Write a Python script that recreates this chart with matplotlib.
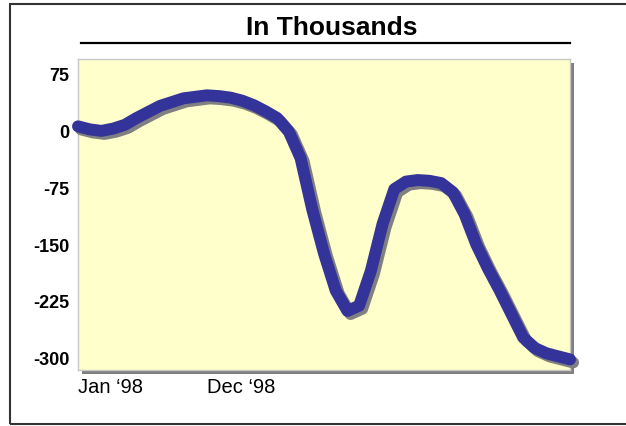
import numpy as np
import matplotlib
matplotlib.use('Agg')
import matplotlib.pyplot as plt
import matplotlib.patheffects as pe
from matplotlib import font_manager
from matplotlib.patches import Rectangle
from matplotlib.lines import Line2D

# monthly change, in thousands, Jan '98 onwards
months = np.arange(43)
change = [7, 3, 1, 4, 9, 18, 26, 34, 39, 44, 46, 48, 47, 45, 41, 35, 27, 18,
          0, -35, -103, -161, -210, -237, -230, -184, -122, -76, -66, -64,
          -65, -68, -80, -109, -149, -181, -210, -241, -272, -286, -293,
          -297, -301]
tick_pos = [0, 11]
tick_labels = ['Jan \u201898', 'Dec \u201898']
y_ticks = [75, 0, -75, -150, -225, -300]


def pick_font(names):
    for name in names:
        try:
            font_manager.findfont(name, fallback_to_default=False)
            return name
        except ValueError:
            continue
    return 'DejaVu Sans'


narrow = pick_font(['Liberation Sans Narrow', 'Liberation Sans'])

W, H = 626, 426
fig = plt.figure(figsize=(W / 100, H / 100), dpi=100)

# outer frame, right side runs off the canvas
fig.add_artist(Rectangle((10 / W, 2 / H), 2.0, 420 / H, transform=fig.transFigure,
                         fill=False, edgecolor='#333333', linewidth=1.5))

# title and rule underneath
fig.text(332 / W, 1 - 28 / H, 'In Thousands', ha='center', va='center',
         fontsize=19, fontweight='bold', family=narrow)
fig.add_artist(Line2D([81 / W, 570 / W], [1 - 43 / H, 1 - 43 / H],
                      transform=fig.transFigure, color='black', linewidth=1.6))

left, right, top, bottom = 78, 570, 59, 370
pos = [left / W, 1 - bottom / H, (right - left) / W, (bottom - top) / H]

# drop shadow of the plot area
fig.add_artist(Rectangle((pos[0] + 4 / W, pos[1] - 4 / H), pos[2], pos[3],
                         transform=fig.transFigure, facecolor='#808080',
                         edgecolor='none', zorder=-1))

ax = fig.add_axes(pos)
ax.set_facecolor('#FFFFCC')
for s in ax.spines.values():
    s.set_color('#C8C8C8')
    s.set_linewidth(1)

ax.plot(months, change, color='#333399', linewidth=8.6, solid_capstyle='round',
        solid_joinstyle='round', clip_on=False, zorder=3,
        path_effects=[pe.SimpleLineShadow(offset=(2.2, -2.2), shadow_color='#808080', alpha=1),
                      pe.Normal()])

ax.set_xlim(0, 42)
ax.set_ylim(-315, 96)
ax.set_yticks(y_ticks)
ax.set_yticklabels([str(v) for v in y_ticks], fontweight='bold', fontsize=13,
                   family=narrow)
ax.set_xticks(tick_pos)
ax.set_xticklabels(tick_labels, fontsize=14.5, family=narrow, ha='left')
for lbl in ax.get_xticklabels():
    lbl.set_x(lbl.get_position()[0])
ax.tick_params(axis='both', length=0)
ax.tick_params(axis='y', pad=6)
ax.tick_params(axis='x', pad=6)

fig.savefig('out.png', dpi=100)
